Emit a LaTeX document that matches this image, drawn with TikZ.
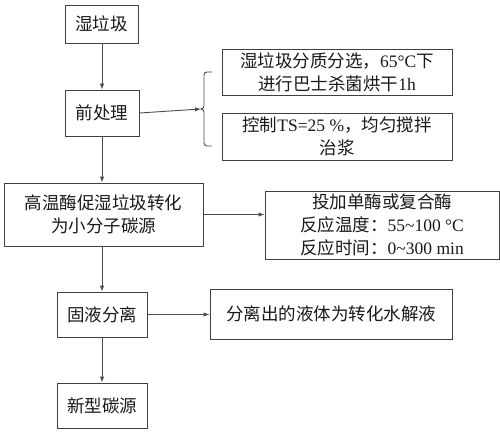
\documentclass[tikz,border=0pt]{standalone}
\usepackage{fontspec}
\setmainfont{Liberation Serif}
\newfontfamily\cjk{Noto Sans CJK SC}
\usetikzlibrary{arrows.meta}
\begin{document}
\begin{tikzpicture}[x=1pt,y=-1pt,
  box/.style={draw=black!75,line width=0.9pt,rectangle,inner sep=0pt,align=center,
    font=\fontsize{17.5}{23}\selectfont,text=black!90},
  conn/.style={draw=black!70,line width=0.9pt,-{Latex[length=6pt,width=4.5pt]}}]
\useasboundingbox (0,0) rectangle (500,433);
\node[box,minimum width=73pt,minimum height=38pt] (b1) at (101.5,24) {\cjk 湿垃圾};
\node[box,minimum width=74pt,minimum height=46pt] (b2) at (102,113) {\cjk 前处理};
\node[box,minimum width=230pt,minimum height=46pt] (b3) at (337,72) {{\cjk 湿垃圾分质分选，}65°C{\cjk 下}\\{\cjk 进行巴士杀菌烘干}1h};
\node[box,minimum width=230pt,minimum height=47pt] (b4) at (337,136.5) {{\cjk 控制}TS=25 \%{\cjk ，均匀搅拌}\\{\cjk 治浆}};
\node[box,minimum width=199pt,minimum height=63pt] (b5) at (103.5,214.5) {\cjk 高温酶促湿垃圾转化\\\cjk 为小分子碳源};
\node[box,minimum width=234pt,minimum height=68pt] (b6) at (382,225) {{\cjk 投加单酶或复合酶}\\{\cjk 反应温度：}55\textasciitilde100 °C\\{\cjk 反应时间：}0\textasciitilde300 min};
\node[box,minimum width=90pt,minimum height=45pt] (b7) at (102,314.5) {\cjk 固液分离};
\node[box,minimum width=242pt,minimum height=50pt] (b8) at (331,314) {\cjk 分离出的液体为转化水解液};
\node[box,minimum width=90pt,minimum height=45pt] (b9) at (102,405.5) {\cjk 新型碳源};
\coordinate (cusp) at (201,109);
\draw[draw=black!70,line width=0.9pt] (212,72) -- (207,72) to[out=180,in=90] (204,75) -- (204,106) to[out=-90,in=0] (cusp) to[out=0,in=90] (204,112) -- (204,143) to[out=-90,in=180] (207,146) -- (212,146);
\draw[conn] (b1.south -| 102,0) -- (b2.north -| 102,0);
\draw[conn] (b2.south -| 102,0) -- (b5.north -| 102,0);
\draw[conn] (b5.south -| 102,0) -- (b7.north -| 102,0);
\draw[conn] (b7.south -| 102,0) -- (b9.north -| 102,0);
\draw[conn] (b2.east) -- (cusp);
\draw[conn] (b5.east) -- (b5.east -| b6.west);
\draw[conn] (b7.east) -- (b7.east -| b8.west);
\end{tikzpicture}
\end{document}
